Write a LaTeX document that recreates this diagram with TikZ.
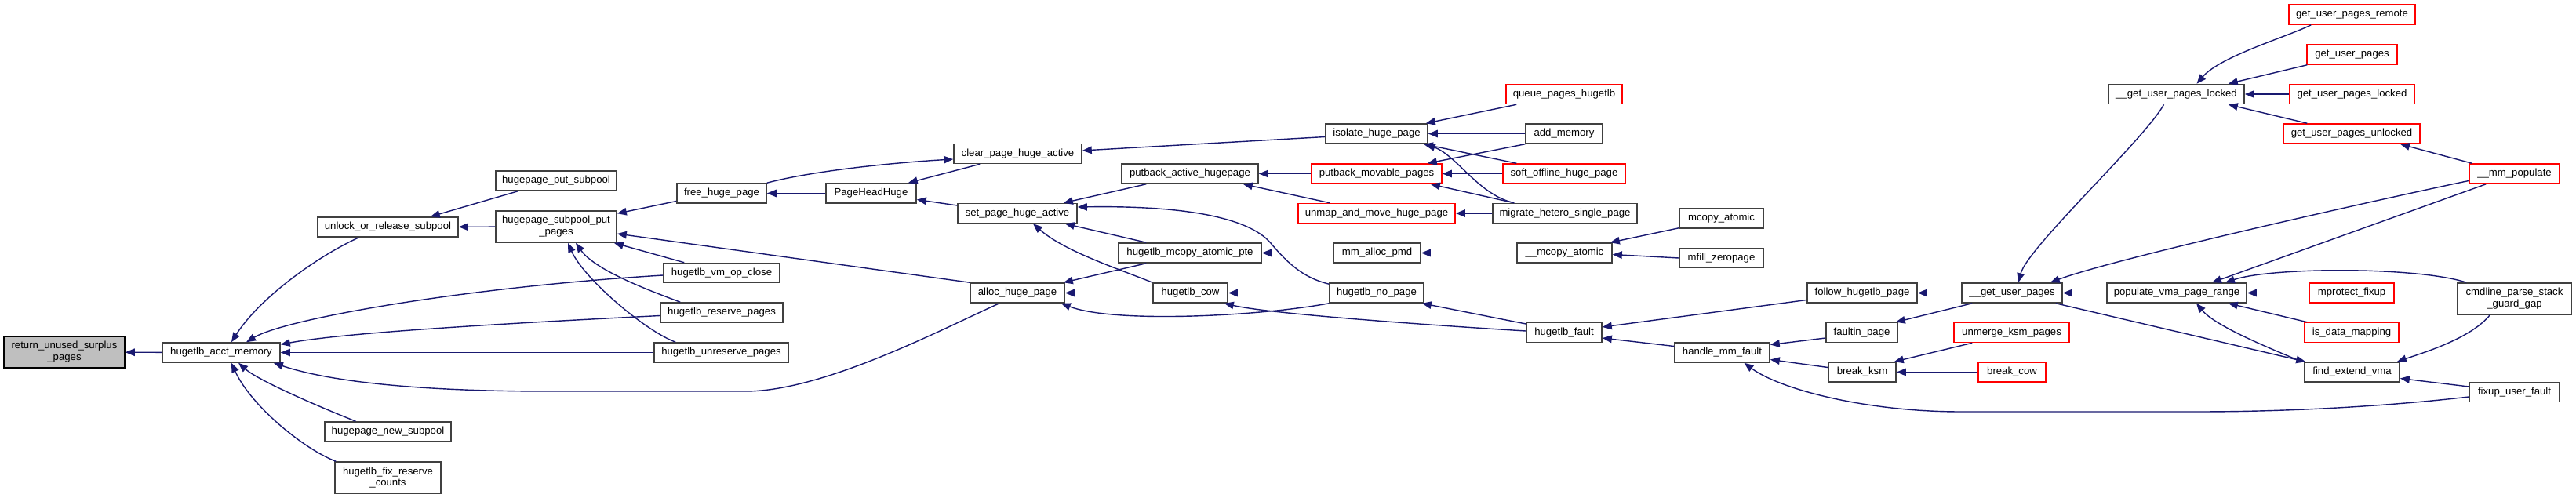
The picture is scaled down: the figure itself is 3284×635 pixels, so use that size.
\documentclass[tikz,border=0pt]{standalone}
\usepackage{fontspec}
\setmainfont{Liberation Sans}
\usepackage{tikz}
\usetikzlibrary{calc,arrows.meta}
\definecolor{edgeblue}{HTML}{191970}
\definecolor{boxline}{HTML}{404040}
\definecolor{rootfill}{HTML}{BFBFBF}
\newcommand{\fnfont}{\fontsize{7.5}{8.5}\selectfont}

\begin{document}
\begin{tikzpicture}[x=0.02cm,y=-0.02cm,
    fn/.style={draw=boxline,line width=0.9pt,fill=white,inner sep=0pt,minimum height=0.5cm,minimum width=#1*0.02cm,font=\fnfont,align=center},
    fnred/.style={fn=#1,draw=red},
    fnroot/.style={fn=#1,fill=rootfill,draw=black},
    tall/.style={minimum height=0.8cm},
    call/.style={draw=edgeblue,line width=0.8pt,{Triangle[length=0.24cm,width=0.19cm]}-}]
      \useasboundingbox (0,0) rectangle (3284,635);
      \node[fnroot=154,tall] (ret) at (82,449) {return\_unused\_surplus\\\_pages};
      \node[fn=150] (acct) at (282,449.5) {hugetlb\_acct\_memory};
      \node[fn=179] (unlock) at (494.5,289.5) {unlock\_or\_release\_subpool};
      \node[fn=161] (newsub) at (494.5,550.5) {hugepage\_new\_subpool};
      \node[fn=135,tall] (fixres) at (494.5,609) {hugetlb\_fix\_reserve\\\_counts};
      \node[fn=154] (putsub) at (709,230.5) {hugepage\_put\_subpool};
      \node[fn=154,tall] (subput) at (709,289) {hugepage\_subpool\_put\\\_pages};
      \node[fn=114] (freehp) at (920,246.5) {free\_huge\_page};
      \node[fn=148] (vmclose) at (920,348) {hugetlb\_vm\_op\_close};
      \node[fn=156] (reserve) at (920,398.5) {hugetlb\_reserve\_pages};
      \node[fn=171] (unreserve) at (919.5,449.5) {hugetlb\_unreserve\_pages};
      \node[fn=115] (headhuge) at (1110.5,246.5) {PageHeadHuge};
      \node[fn=163] (clear) at (1297.5,196) {clear\_page\_huge\_active};
      \node[fn=152] (setact) at (1297,272) {set\_page\_huge\_active};
      \node[fn=120] (alloc) at (1297,373.5) {alloc\_huge\_page};
      \node[fn=174] (putact) at (1517,221.5) {putback\_active\_hugepage};
      \node[fn=182] (mcopypte) at (1517,322.5) {hugetlb\_mcopy\_atomic\_pte};
      \node[fn=95] (cow) at (1517.5,373.5) {hugetlb\_cow};
      \node[fn=130] (isolate) at (1755,170.5) {isolate\_huge\_page};
      \node[fnred=166] (putmov) at (1755,221.5) {putback\_movable\_pages};
      \node[fnred=200] (unmap) at (1755,272) {unmap\_and\_move\_huge\_page};
      \node[fn=111] (allocpmd) at (1755.5,322.5) {mm\_alloc\_pmd};
      \node[fn=120] (nopage) at (1755,373.5) {hugetlb\_no\_page};
      \node[fnred=148] (queue) at (1994,120) {queue\_pages\_hugetlb};
      \node[fn=98] (addmem) at (1994,170.5) {add\_memory};
      \node[fnred=156] (softoff) at (1994,221.5) {soft\_offline\_huge\_page};
      \node[fn=184] (migrate) at (1995,272) {migrate\_hetero\_single\_page};
      \node[fn=121] (mcopyat) at (1994.5,322.5) {\_\_mcopy\_atomic};
      \node[fn=96] (fault) at (1994,424) {hugetlb\_fault};
      \node[fn=107] (mcopy) at (2194.5,278.5) {mcopy\_atomic};
      \node[fn=107] (mfill) at (2194.5,329) {mfill\_zeropage};
      \node[fn=121] (handle) at (2195.5,449.5) {handle\_mm\_fault};
      \node[fn=140] (follow) at (2374,373.5) {follow\_hugetlb\_page};
      \node[fn=91] (faultin) at (2373.5,424) {faultin\_page};
      \node[fn=86] (breakksm) at (2374,474.5) {break\_ksm};
      \node[fn=128] (getup) at (2565,373.5) {\_\_get\_user\_pages};
      \node[fnred=147] (unmerge) at (2564.5,424) {unmerge\_ksm\_pages};
      \node[fnred=86] (breakcow) at (2565,474.5) {break\_cow};
      \node[fn=173] (gupl) at (2774.5,120) {\_\_get\_user\_pages\_locked};
      \node[fn=178] (popvma) at (2775,373.5) {populate\_vma\_page\_range};
      \node[fnred=161] (remote) at (2998.5,18.5) {get\_user\_pages\_remote};
      \node[fnred=115] (gup) at (2998.5,69.5) {get\_user\_pages};
      \node[fnred=159] (guplocked) at (2998.5,120) {get\_user\_pages\_locked};
      \node[fnred=174] (unlocked) at (2998,170.5) {get\_user\_pages\_unlocked};
      \node[fnred=108] (mprotect) at (2998,373.5) {mprotect\_fixup};
      \node[fnred=120] (isdata) at (2998,424) {is\_data\_mapping};
      \node[fn=121] (findext) at (2998.5,474.5) {find\_extend\_vma};
      \node[fnred=115] (mmpop) at (3205.5,221.5) {\_\_mm\_populate};
      \node[fn=145,tall] (cmdline) at (3205.5,381) {cmdline\_parse\_stack\\\_guard\_gap};
      \node[fn=115] (fixup) at (3205.5,500) {fixup\_user\_fault};
      \draw[call] (ret) -- (acct);
      \draw[call] ($(acct.north)+(13,0)$) .. controls +(35,-55) and +(-55,25) .. ($(unlock.south)+(-37,0)$);
      \draw[call] ($(acct.north)+(32,0)$) .. controls +(50,-30) and +(-250,15) .. ($(vmclose.west)+(0,3)$);
      \draw[call] ($(acct.north east)+(0,3)$) .. controls +(80,-15) and +(-200,10) .. ($(reserve.west)+(0,4)$);
      \draw[call] (acct) -- (unreserve);
      \draw[call] ($(acct.south east)+(-9,0)$) .. controls (430,490) and (560,499) .. (700,499) -- (950,499) .. controls (1050,499) and (1200,420) .. ($(alloc.south)+(-23,0)$);
      \draw[call] ($(acct.south)+(22,0)$) .. controls +(25,22) and +(-55,-22) .. ($(newsub.north)+(-41,0)$);
      \draw[call] ($(acct.south)+(13,0)$) .. controls +(25,55) and +(-40,-15) .. ($(fixres.north west)+(2,0)$);
      \draw[call] ($(unlock.north east)+(-36,0)$) -- ($(putsub.south west)+(29,0)$);
      \draw[call] (unlock) -- (subput);
      \draw[call] ($(subput.north east)+(0,4)$) -- ($(freehp.west)+(0,10)$);
      \draw[call] ($(subput.east)+(0,9)$) -- (alloc.north west);
      \draw[call] ($(subput.south east)+(-4,0)$) -- ($(vmclose.north west)+(27,0)$);
      \draw[call] ($(subput.south)+(25,0)$) .. controls +(25,35) and +(-40,-15) .. ($(reserve.north west)+(26,0)$);
      \draw[call] ($(subput.south)+(15,0)$) .. controls +(20,45) and +(-40,-15) .. ($(unreserve.north west)+(28,0)$);
      \draw[call] (freehp) -- (headhuge);
      \draw[call] ($(clear.west)+(0,7)$) .. controls +(-70,4) and +(60,-16) .. (freehp.north east);
      \draw[call] ($(headhuge.north east)+(-11,0)$) -- ($(clear.south west)+(34,0)$);
      \draw[call] ($(headhuge.east)+(0,8)$) -- ($(setact.west)+(0,-10)$);
      \draw[call] ($(clear.east)+(0,-4)$) -- ($(isolate.west)+(0,4)$);
      \draw[call] ($(setact.north east)+(-18,0)$) -- ($(putact.south west)+(32,0)$);
      \draw[call] ($(setact.east)+(0,-8)$) .. controls (1500,262) and (1590,275) .. (1620,310) .. controls (1645,340) and (1665,355) .. ($(nopage.north west)+(0,2)$);
      \draw[call] ($(setact.south east)+(-16,0)$) -- ($(mcopypte.north west)+(36,0)$);
      \draw[call] ($(setact.south)+(20,0)$) .. controls +(40,35) and +(-45,-18) .. (cow.north west);
      \draw[call] ($(alloc.north east)+(-2,0)$) -- ($(mcopypte.south west)+(36,0)$);
      \draw[call] (alloc) -- (cow);
      \draw[call] ($(alloc.south east)+(-5,0)$) .. controls +(68,26) and +(-85,16) .. (nopage.south west);
      \draw[call] (putact) -- (putmov);
      \draw[call] ($(putact.south east)+(-20,0)$) -- ($(unmap.north west)+(41,0)$);
      \draw[call] (mcopypte) -- (allocpmd);
      \draw[call] (cow) -- (nopage);
      \draw[call] ($(cow.south east)+(-5,0)$) .. controls +(60,14) and +(-100,-6) .. ($(fault.west)+(0,-2)$);
      \draw[call] ($(nopage.south east)+(-3,0)$) -- ($(fault.west)+(0,-11)$);
      \draw[call] ($(isolate.north east)+(-3,0)$) -- ($(queue.south west)+(14,0)$);
      \draw[call] (isolate) -- (addmem);
      \draw[call] ($(isolate.south east)+(-6,0)$) -- ($(softoff.north west)+(18,0)$);
      \draw[call] ($(isolate.south east)+(-3,0)$) .. controls +(40,15) and +(-45,-10) .. ($(migrate.north west)+(28,0)$);
      \draw[call] ($(putmov.north east)+(-19,0)$) -- (addmem.south west);
      \draw[call] (putmov) -- (softoff);
      \draw[call] ($(putmov.south east)+(-15,0)$) -- ($(migrate.north west)+(28,0)$);
      \draw[call] (unmap) -- (migrate);
      \draw[call] (allocpmd) -- (mcopyat);
      \draw[call] ($(mcopyat.north east)+(-3,0)$) -- ($(mcopy.south west)+(0,-1)$);
      \draw[call] ($(mcopyat.east)+(0,2)$) -- (mfill.west);
      \draw[call] ($(fault.east)+(0,-7)$) -- ($(follow.west)+(0,9)$);
      \draw[call] ($(fault.east)+(0,7)$) -- ($(handle.west)+(0,-8)$);
      \draw[call] ($(handle.east)+(0,-10)$) -- ($(faultin.west)+(0,7)$);
      \draw[call] ($(handle.east)+(0,9)$) -- ($(breakksm.west)+(0,-6)$);
      \draw[call] ($(handle.south)+(28,0)$) .. controls (2270,497) and (2380,525) .. (2500,525) -- (2800,525) .. controls (2950,525) and (3080,514) .. ($(fixup.west)+(0,6)$);
      \draw[call] (follow) -- (getup);
      \draw[call] ($(faultin.north east)+(-3,0)$) -- ($(getup.south west)+(14,0)$);
      \draw[call] ($(breakksm.north east)+(-3,0)$) -- ($(unmerge.south west)+(24,0)$);
      \draw[call] (breakksm) -- (breakcow);
      \draw[call] ($(getup.north)+(8,0)$) .. controls +(12,-45) and +(-25,45) .. ($(gupl.south)+(-16,0)$);
      \draw[call] ($(getup.north east)+(-16,0)$) .. controls +(80,-30) and +(-120,25) .. ($(mmpop.west)+(0,9)$);
      \draw[call] (getup) -- (popvma);
      \draw[call] ($(findext.north west)+(2,0)$) -- ($(getup.south east)+(-9,0)$);
      \draw[call] ($(popvma.north)+(45,0)$) -- ($(mmpop.south west)+(22,0)$);
      \draw[call] ($(popvma.north)+(62,0)$) .. controls +(60,-20) and +(-60,-20) .. ($(cmdline.north west)+(12,0)$);
      \draw[call] (popvma) -- (mprotect);
      \draw[call] ($(popvma.south east)+(-24,0)$) -- ($(isdata.north west)+(4,0)$);
      \draw[call] ($(popvma.south)+(25,0)$) .. controls +(25,30) and +(-35,-15) .. ($(findext.north west)+(-3,0)$);
      \draw[call] ($(findext.north east)+(-4,0)$) .. controls +(35,-12) and +(-25,30) .. ($(cmdline.south west)+(42,0)$);
      \draw[call] ($(findext.east)+(0,8)$) -- ($(fixup.west)+(0,-7)$);
      \draw[call] ($(gupl.north)+(26,0)$) .. controls +(30,-35) and +(-30,15) .. ($(remote.south west)+(29,0)$);
      \draw[call] ($(gupl.north east)+(-21,0)$) -- ($(gup.south west)+(1,0)$);
      \draw[call] (gupl) -- (guplocked);
      \draw[call] ($(gupl.south east)+(-21,0)$) -- ($(unlocked.north west)+(31,0)$);
      \draw[call] ($(unlocked.south)+(62,0)$) -- ($(mmpop.north west)+(4,0)$);
    \end{tikzpicture}
\end{document}
